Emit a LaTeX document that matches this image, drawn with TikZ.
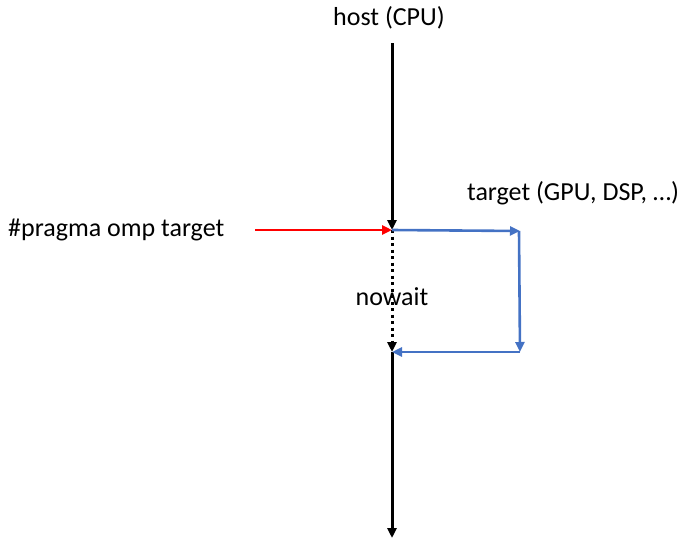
\documentclass[tikz,border=0pt]{standalone}
\usepackage{fontspec}
\setmainfont{Carlito}
\usetikzlibrary{arrows.meta}
\begin{document}
\begin{tikzpicture}[x=1pt,y=-1pt,
  lbl/.style={font=\fontsize{26}{30}\selectfont, inner sep=0pt},
  hostline/.style={line width=3pt, black, -{Triangle[length=10pt,width=9pt]}},
  waitline/.style={line width=3pt, black, dash pattern=on 3pt off 3.5pt, -{Triangle[length=10pt,width=9pt]}},
  offload/.style={line width=2.6pt, -{Triangle[length=10pt,width=9pt]}},
  devline/.style={offload, color={rgb,255:red,68;green,114;blue,196}}]
\useasboundingbox (0,0) rectangle (681,541);
% labels
\node[lbl] (host) at (389,18) {host (CPU)};
\node[lbl] (target) at (573,193) {target (GPU, DSP, \dots)};
\node[lbl, anchor=west] (pragma) at (8,230) {\#pragma omp target};
\node[lbl] (nowait) at (392,297) {nowait};
% points on the host timeline and the device box
\coordinate (top) at (392,43);
\coordinate (launch) at (392,230);
\coordinate (join) at (392,352);
\coordinate (bottom) at (392,538);
\coordinate (redstart) at (255,230);
\coordinate (devtop) at (520,231);
\coordinate (devbot) at (520,352);
% host timeline
\draw[hostline] (top) -- (launch);
\draw[waitline] (launch) -- (join);
\draw[hostline] (join) -- (bottom);
% directive
\draw[offload, red] (redstart) -- (launch);
% device work
\draw[devline] (launch) -- (devtop);
\draw[devline] ([xshift=-1pt]devtop) -- (devbot);
\draw[devline] (devbot) -- (join);
\end{tikzpicture}
\end{document}
